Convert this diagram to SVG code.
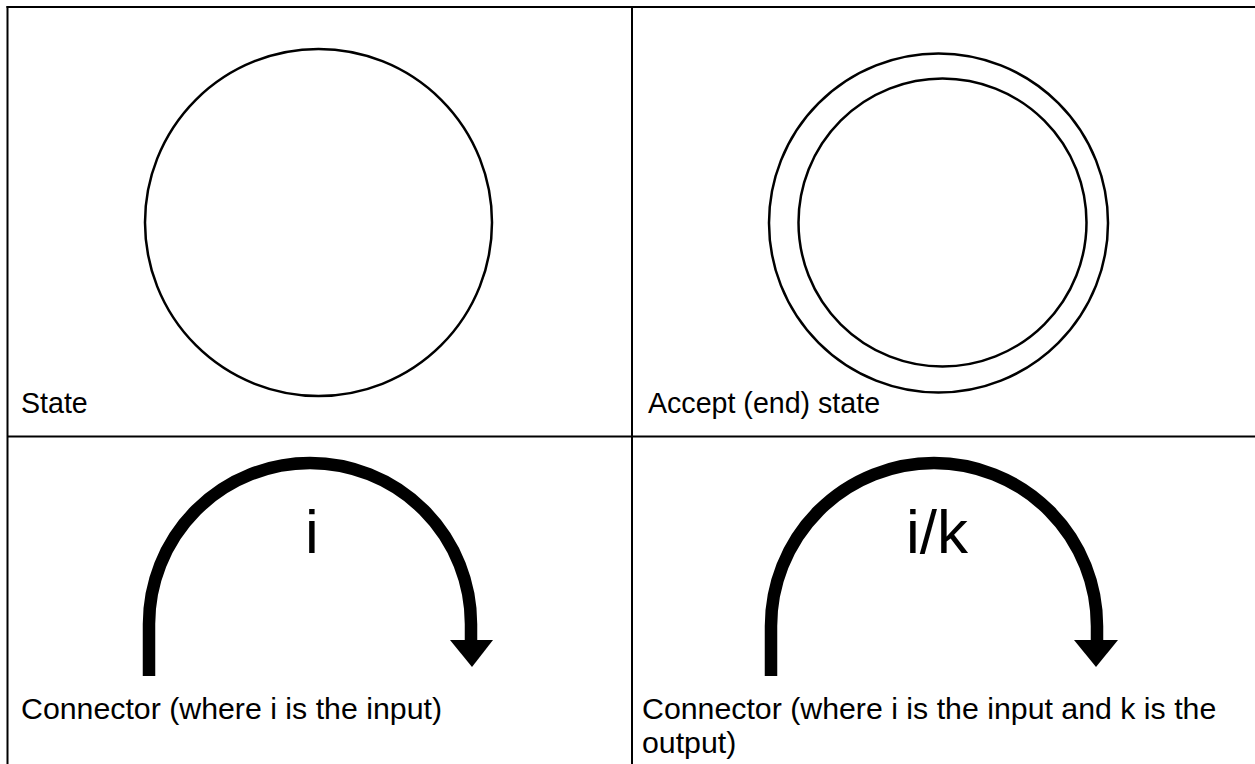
<svg xmlns="http://www.w3.org/2000/svg" width="1255" height="764" viewBox="0 0 1255 764">
<style>
.grid{stroke:#000;stroke-width:2;fill:none}
.ring{stroke:#000;stroke-width:2.5;fill:none}
.conn{stroke:#000;stroke-width:12.5;fill:none}
.head{fill:#000}
.lbl{font-family:"Liberation Sans",Arial,sans-serif;font-size:28.6px;fill:#000}
.lbl2{font-family:"Liberation Sans",Arial,sans-serif;font-size:30.3px;fill:#000}
.in{font-family:"Liberation Sans",Arial,sans-serif;font-size:62px;fill:#000;text-anchor:middle}
</style>
<rect width="1255" height="764" fill="#fff"/>
<g id="table" class="grid">
<line x1="6.5" y1="7" x2="1255" y2="7"/>
<line x1="7.5" y1="6" x2="7.5" y2="764"/>
<line x1="632" y1="7" x2="632" y2="764"/>
<line x1="7" y1="436.5" x2="1255" y2="436.5"/>
</g>
<g id="state">
<circle class="ring" cx="318.5" cy="222.5" r="173.5"/>
<text class="lbl" x="21" y="413">State</text>
</g>
<g id="accept">
<circle class="ring" cx="938.5" cy="223" r="169.5"/>
<circle class="ring" cx="942.5" cy="222.5" r="144"/>
<text class="lbl" x="648" y="413">Accept (end) state</text>
</g>
<g id="connectors">
<g id="connector1">
<path class="conn" d="M149,676 L149,624 A161,161 0 0 1 471,624 L471,642"/>
<polygon class="head" points="450,640 493,640 472,667"/>
<text class="in" x="312" y="553">i</text>
<text class="lbl2" x="21" y="719">Connector (where i is the input)</text>
</g>
<g id="connector2">
<path class="conn" d="M771,676 L771,626 A163,163 0 0 1 1097,626 L1097,642"/>
<polygon class="head" points="1074,640 1118,640 1096,667"/>
<text class="in" x="937" y="553">i/k</text>
<text class="lbl2" x="642" y="719">Connector (where i is the input and k is the</text>
<text class="lbl2" x="642" y="753">output)</text>
</g>
</g>
</svg>
